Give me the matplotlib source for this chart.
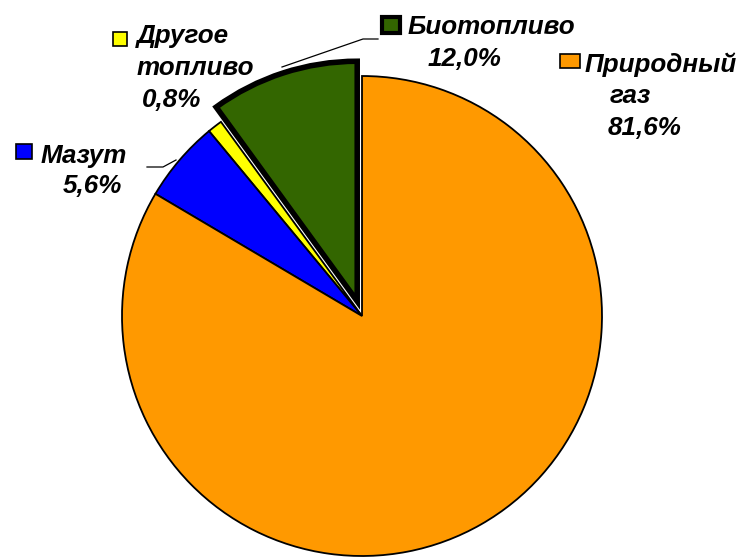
import matplotlib
matplotlib.use('Agg')
import matplotlib.pyplot as plt

W, H = 744, 557

labels = ['Биотопливо', 'Другое топливо', 'Мазут', 'Природный газ']
# percentages as printed on the labels
label_pct = [12.0, 0.8, 5.6, 81.6]
# sector sizes as drawn (measured from the wedge angles)
sector_values = [10.0, 1.0, 5.5, 83.5]
colors = ['#336600', '#FFFF00', '#0000FF', '#FF9900']

label_lines = [['Биотопливо'], ['Другое', 'топливо'], ['Мазут'], ['Природный', 'газ']]


def pct(v):
    return '{:.1f}%'.format(v).replace('.', ',')


def py(y):
    # pixel row (from top) -> data y
    return H - y


fig = plt.figure(figsize=(W / 100, H / 100), dpi=100)
ax = fig.add_axes([0, 0, 1, 1])
ax.set_xlim(0, W)
ax.set_ylim(0, H)
ax.set_aspect('equal')

wedges, _ = ax.pie(sector_values, colors=colors, startangle=90, counterclock=True,
                   explode=[15.5, 0, 0, 0], center=(362, py(316)), radius=240,
                   frame=True, wedgeprops=dict(edgecolor='black', linewidth=1.3))
wedges[0].set_linewidth(4)
wedges[0].set_joinstyle('miter')
ax.axis('off')

font = dict(family='Liberation Sans', weight='bold', style='italic', fontsize=18.7, color='black')

# (marker box x, y, w, h), line positions [(x, baseline)]
layout = [
    ((382, 17, 18, 16), [(408, 34), (428, 66)]),
    ((113, 32, 14, 14), [(137, 43), (137, 75), (142, 107)]),
    ((16, 144, 16, 15), [(41, 163), (63, 193)]),
    ((560, 54, 20, 14), [(585, 72), (610, 103), (608, 135)]),
]

for i, (box, pos) in enumerate(layout):
    bx, by, bw, bh = box
    lw = 3 if i == 0 else 1.2
    ax.add_patch(plt.Rectangle((bx, py(by + bh)), bw, bh, facecolor=colors[i],
                               edgecolor='black', linewidth=lw))
    lines = label_lines[i] + [pct(label_pct[i])]
    for (tx, ty), s in zip(pos, lines):
        ax.text(tx, py(ty), s, ha='left', va='baseline', **font)

# leader lines
ax.plot([282, 363, 378], [py(67), py(39), py(39)], color='black', lw=0.9)
ax.plot([147, 163, 176], [py(167), py(167), py(160)], color='black', lw=0.9)

fig.savefig('out.png', dpi=100)
